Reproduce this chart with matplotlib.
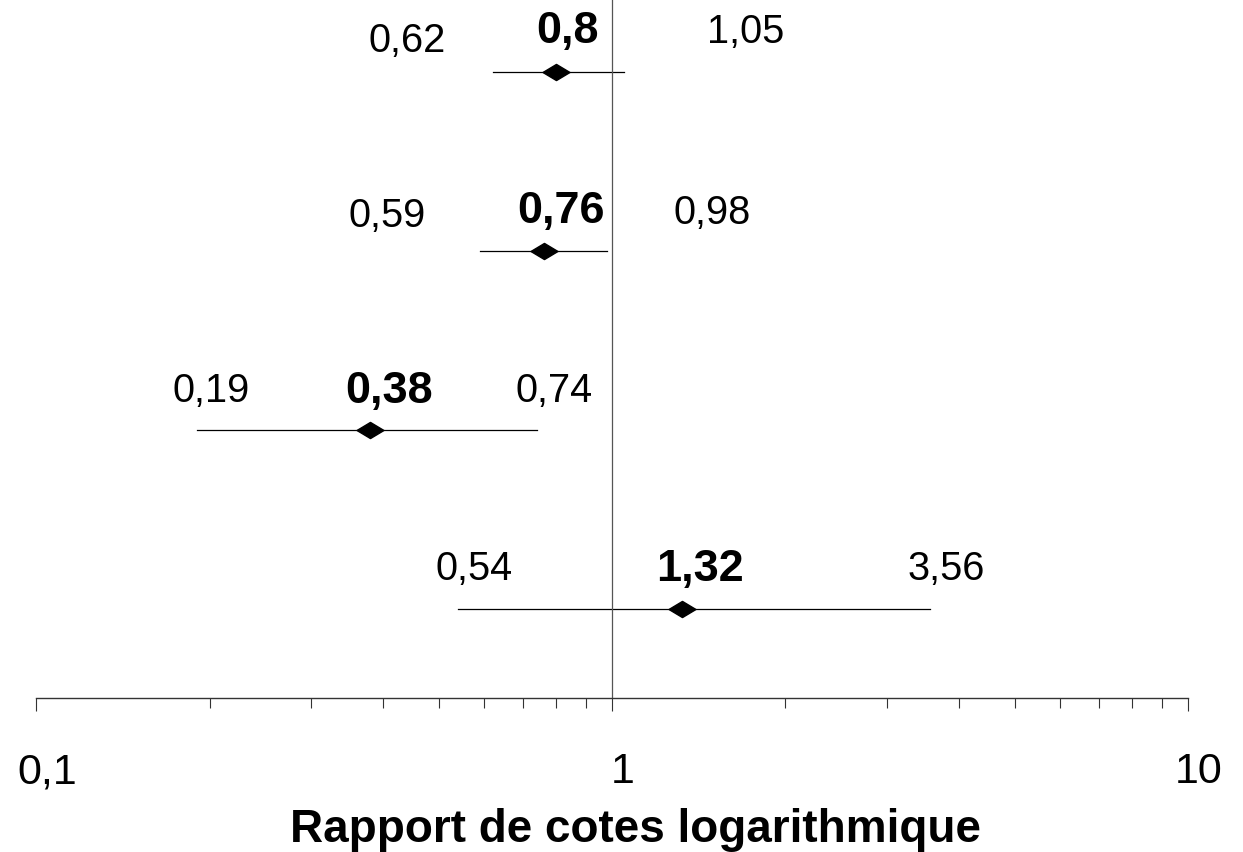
import numpy as np
import matplotlib.pyplot as plt
import matplotlib.transforms as mtransforms
from matplotlib.ticker import FixedLocator, FixedFormatter, LogLocator, NullFormatter

plt.rcParams['font.family'] = ['Liberation Sans', 'DejaVu Sans']

# donnees (rapport de cotes et intervalle de confiance)
rapport = [0.8, 0.76, 0.38, 1.32]
ic_bas = [0.62, 0.59, 0.19, 0.54]
ic_haut = [1.05, 0.98, 0.74, 3.56]
lignes = [4, 3, 2, 1]

graduations = [0.1, 1, 10]
etiquettes_grad = ["0,1", "1", "10"]
titre_x = "Rapport de cotes logarithmique"

# position horizontale des etiquettes (unites de l'axe)
pos_bas = [0.440, 0.407, 0.201, 0.575]
pos_rc = [0.838, 0.815, 0.410, 1.420]
pos_haut = [1.707, 1.490, 0.792, 3.80]
# decalage vertical de la ligne de base (pixels au-dessus du segment)
dy_bas = [21, 25, 29, 30]
dy_rc = [30, 29, 28, 29]
dy_haut = [30, 28, 29, 30]


def fmt(v):
    return f"{v:g}".replace(".", ",")


W, H = 1243, 853
x0, x1, yax = 36.3, 1188, 699
fig = plt.figure(figsize=(W / 100, H / 100), dpi=100)
ax = fig.add_axes([x0 / W, 1 - yax / H, (x1 - x0) / W, yax / H])

ax.set_xscale("log")
ax.set_xlim(0.1, 10)
ax.set_ylim(0.503, 4.408)

losange = [(-1, 0), (0, 0.6), (1, 0), (0, -0.6), (-1, 0)]

for i in range(len(rapport)):
    y = lignes[i]
    ax.plot([ic_bas[i], ic_haut[i]], [y, y], color="black", lw=0.9)
    ax.plot(rapport[i], y, marker=losange, ms=19.4, color="black", mec="black")
    ax.annotate(fmt(ic_bas[i]), xy=(pos_bas[i], y), xytext=(0, dy_bas[i]),
                textcoords="offset pixels", ha="center", va="baseline", fontsize=28.6)
    ax.annotate(fmt(rapport[i]), xy=(pos_rc[i], y), xytext=(0, dy_rc[i]),
                textcoords="offset pixels", ha="center", va="baseline",
                fontsize=32.4, fontweight="bold")
    ax.annotate(fmt(ic_haut[i]), xy=(pos_haut[i], y), xytext=(0, dy_haut[i]),
                textcoords="offset pixels", ha="center", va="baseline", fontsize=28.6)

ax.axvline(1, color="#555555", lw=0.9)

for s in ["left", "right", "top"]:
    ax.spines[s].set_visible(False)
ax.spines["bottom"].set_color("#333333")
ax.spines["bottom"].set_linewidth(1.0)

ax.set_yticks([])
ax.xaxis.set_major_locator(FixedLocator(graduations))
ax.xaxis.set_major_formatter(FixedFormatter(etiquettes_grad))
ax.xaxis.set_minor_locator(LogLocator(base=10, subs=np.arange(2, 10)))
ax.xaxis.set_minor_formatter(NullFormatter())
ax.tick_params(axis="x", which="major", length=9.4, width=0.8, color="#333333",
               labelsize=31, pad=29)
ax.tick_params(axis="x", which="minor", length=7.2, width=0.8, color="#333333")

decal = mtransforms.ScaledTranslation(11 / 100, 0, fig.dpi_scale_trans)
for t in ax.xaxis.get_major_ticks():
    t.label1.set_transform(t.label1.get_transform() + decal)

ax.set_xlabel(titre_x, fontsize=33, fontweight="bold", va="baseline")
ax.xaxis.set_label_coords((635 - x0) / (x1 - x0), (yax - 842) / yax)

fig.savefig("out.png", dpi=100)
